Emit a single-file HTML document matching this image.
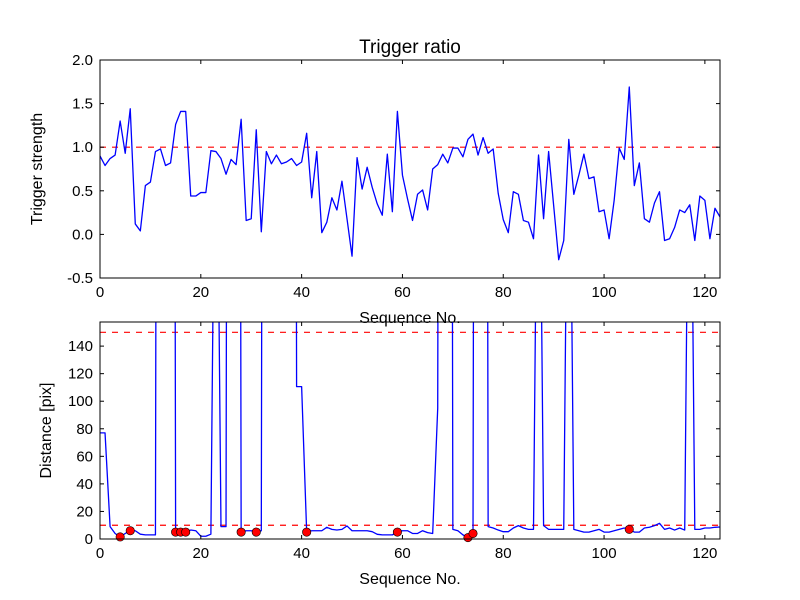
<!DOCTYPE html>
<html><head><meta charset="utf-8"><style>
body{margin:0;background:#fff;}
svg{display:block;font-family:"Liberation Sans","DejaVu Sans",sans-serif;}
</style></head><body>
<svg id="chart" width="800" height="600" viewBox="0 0 800 600"></svg>
<script>
const ratioValues=[0.90,0.79,0.87,0.91,1.30,0.93,1.44,0.12,0.04,0.56,0.60,0.95,0.98,0.79,0.82,1.26,1.41,1.41,0.44,0.44,0.48,0.48,0.96,0.95,0.87,0.69,0.86,0.80,1.32,0.16,0.18,1.20,0.03,0.95,0.81,0.91,0.81,0.83,0.87,0.79,0.83,1.16,0.42,0.95,0.02,0.14,0.42,0.28,0.61,0.18,-0.25,0.88,0.52,0.77,0.54,0.35,0.22,0.92,0.26,1.41,0.68,0.41,0.16,0.46,0.51,0.28,0.75,0.80,0.92,0.82,0.99,0.99,0.89,1.09,1.15,0.91,1.11,0.93,0.98,0.47,0.17,0.02,0.49,0.46,0.16,0.14,-0.05,0.91,0.18,0.95,0.33,-0.29,-0.07,1.09,0.46,0.68,0.92,0.64,0.66,0.26,0.28,-0.05,0.39,0.99,0.86,1.69,0.56,0.82,0.18,0.14,0.36,0.49,-0.07,-0.05,0.08,0.28,0.25,0.34,-0.07,0.44,0.39,-0.05,0.30,0.20];
const distValues=[77,77,9,4,1.5,4,6,6,3.5,3,3,3,2000,2000,2000,5,5,5,6.5,6,2,2,3.5,400,9,9,2000,2000,5,6,6,5,6,2000,2000,2000,2000,2000,2000,110.6,110.6,5,6,6,6,8.5,7,6.5,7,9.5,6,6,6,6,5.3,3.4,3,3,3,5,6,6,4,4,6,4.6,4,95,2000,2000,7,6,3,1,4,2000,2000,9,8,6.5,5.3,5.3,8,9.7,8,7,7,400,9.7,7,7,7,7,400,7,6,5,5,6,7,5,5,6,7,8,7,5,5,8,8.5,9.7,11.4,7,8,6.5,8,6.5,400,7,7,8,8,8.5,8.7];
const markerIdx=[4,6,15,16,17,28,31,41,59,73,74,105];
const xTicks=[0,20,40,60,80,100,120];
const ratioTicks=[-0.5,0.0,0.5,1.0,1.5,2.0];
const distTicks=[0,20,40,60,80,100,120,140];
const ratioThreshold=[1.0];
const distThresholds=[10,150];

const NS="http://www.w3.org/2000/svg";
const svg=document.getElementById('chart');
function mk(tag,attrs,parent){const e=document.createElementNS(NS,tag);for(const k in attrs)e.setAttribute(k,attrs[k]);(parent||svg).appendChild(e);return e;}
const X0=100,X1=720,XMAX=123;
function sx(v){return X0+(X1-X0)*v/XMAX;}

function drawPanel(o){
  const g=mk('g',{});
  
  
  const sy=v=>o.y1-(o.y1-o.y0)*(v-o.ymin)/(o.ymax-o.ymin);
  const cid='clip-'+o.name;
  const cp=mk('clipPath',{id:cid},g);mk('rect',{x:X0,y:o.y0,width:X1-X0,height:o.y1-o.y0},cp);
  const plot=mk('g',{'clip-path':'url(#'+cid+')'},g);
  o.thresholds.forEach(t=>{const l=mk('line',{x1:X0,x2:X1,y1:sy(t),y2:sy(t),stroke:'#ff0000','stroke-width':1.2,'stroke-dasharray':'6,6'},plot);
    
    });
  const pts=o.values.map((v,i)=>sx(i).toFixed(2)+','+sy(v).toFixed(2)).join(' ');
  const pl=mk('polyline',{points:pts,fill:'none',stroke:'#0000ff','stroke-width':1.3,'stroke-linejoin':'round'},plot);
  
  
  if(o.markers){o.markers.forEach(i=>{const c=mk('circle',{cx:sx(i),cy:sy(o.values[i]),r:4.2,fill:'#ff0000',stroke:'#000','stroke-width':0.6},g);
    
    });}
  const fr=mk('rect',{x:X0,y:o.y0,width:X1-X0,height:o.y1-o.y0,fill:'none',stroke:'#000','stroke-width':1},g);
  
  
  xTicks.forEach(t=>{const x=sx(t);
    mk('line',{x1:x,x2:x,y1:o.y1,y2:o.y1-4,stroke:'#000'},g);mk('line',{x1:x,x2:x,y1:o.y0,y2:o.y0+4,stroke:'#000'},g);
    const tx=mk('text',{x:x,y:o.y1+19,'text-anchor':'middle','font-size':15},g);tx.textContent=t;
    
    });
  o.yTicks.forEach(t=>{const y=sy(t);
    mk('line',{x1:X0,x2:X0+4,y1:y,y2:y,stroke:'#000'},g);mk('line',{x1:X1,x2:X1-4,y1:y,y2:y,stroke:'#000'},g);
    const tx=mk('text',{x:X0-7,y:y+5,'text-anchor':'end','font-size':15},g);tx.textContent=o.fmt(t);
    
    });
  const xl=mk('text',{x:410,y:o.y1+45,'text-anchor':'middle','font-size':16},g);xl.textContent='Sequence No.';
  
  
  const yc=(o.y0+o.y1)/2;
  const yl=mk('text',{x:o.ylx,y:yc,'text-anchor':'middle','font-size':16,transform:'rotate(-90 '+o.ylx+' '+yc+')'},g);yl.textContent=o.ylabel;
  
  
}
const title=mk('text',{x:410,y:53,'text-anchor':'middle','font-size':19});
title.textContent='Trigger ratio';


drawPanel({name:'trigger-strength-panel',y0:60,y1:278,ymin:-0.5,ymax:2.0,values:ratioValues,thresholds:ratioThreshold,yTicks:ratioTicks,fmt:t=>t.toFixed(1),ylabel:'Trigger strength',ylx:42});
drawPanel({name:'distance-panel',y0:322,y1:539,ymin:0,ymax:157.5,values:distValues,thresholds:distThresholds,yTicks:distTicks,fmt:t=>String(t),ylabel:'Distance [pix]',ylx:51,markers:markerIdx});
</script>
</body></html>
